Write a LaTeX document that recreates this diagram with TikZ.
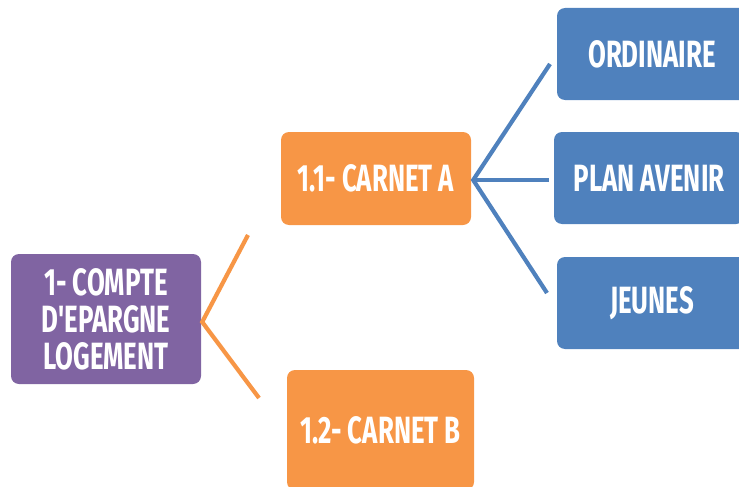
\documentclass[tikz,border=0pt]{standalone}
\usepackage{fontspec}
\setmainfont{Fira Sans}[FakeStretch=0.68, Ligatures=TeXOff]
\usepackage{tikz}
\usetikzlibrary{positioning, calc}
\definecolor{cplPurple}{HTML}{8064A2}
\definecolor{cplOrange}{HTML}{F79646}
\definecolor{cplBlue}{HTML}{4F81BD}
\tikzset{plan box/.style={draw=none, rounded corners=8pt, text=white, align=center,
          inner sep=0pt, minimum width=190pt, minimum height=93pt,
          font=\bfseries\fontsize{38}{37}\selectfont}}
\tikzset{branch/.style={line width=4.2pt}}

\begin{document}
\begin{tikzpicture}[x=1pt, y=-1pt]
    \clip (0,0) rectangle (739,487);

    \node[plan box, fill=cplPurple, minimum height=130pt] (cel) at (106,319)
    {1- COMPTE\\D'EPARGNE\\LOGEMENT};

    \node[plan box, fill=cplOrange] (carnet-a) at (376,178.5) {1.1- CARNET A};
    \node[plan box, fill=cplOrange, minimum width=187pt, minimum height=120pt] (carnet-b) at (380.5,430)
    {1.2- CARNET B};

    \node[plan box, fill=cplBlue, minimum height=92pt] (ordinaire) at (652,54) {ORDINAIRE};
    \node[plan box, fill=cplBlue, minimum height=92pt] (avenir) at (649,178) {PLAN AVENIR};
    \node[plan box, fill=cplBlue, minimum height=92pt] (jeunes) at (652,303) {JEUNES};

    \coordinate (fork-l) at ($(cel.east)+(1,3)$);
    \coordinate (end-a) at (248,235);
    \coordinate (end-b) at (259,398);

    \coordinate (fork-r) at ($(carnet-a.east)+(2,1.5)$);
    \coordinate (end-ord) at (550,64);
    \coordinate (end-av) at (549,180);
    \coordinate (end-je) at (547,293);

    \draw [branch, cplOrange] (end-a) -- (fork-l) -- (end-b);

    \draw [branch, cplBlue] (end-ord) -- (fork-r) -- (end-je);
    \draw [branch, cplBlue] (fork-r) -- (end-av);
  \end{tikzpicture}
\end{document}
